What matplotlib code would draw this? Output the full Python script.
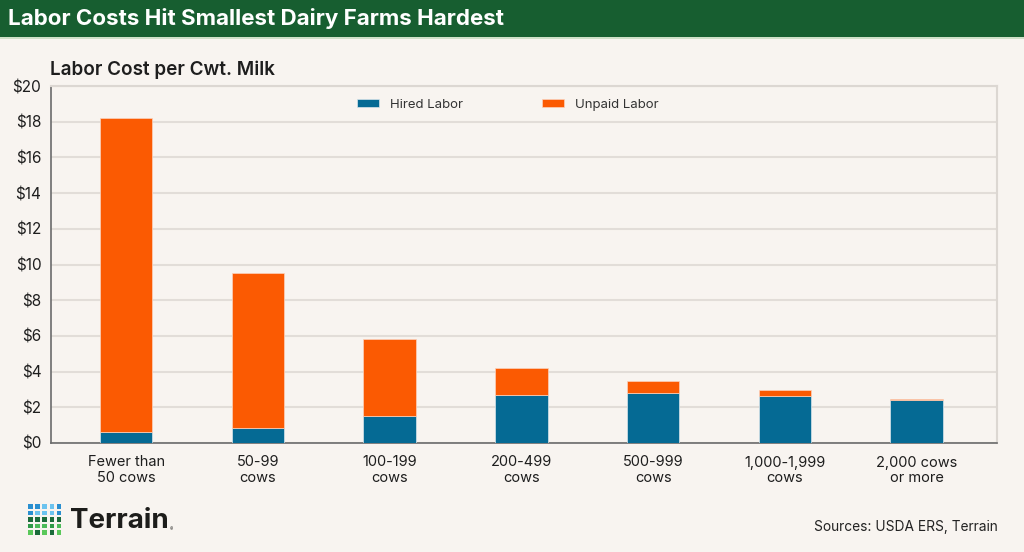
import matplotlib
matplotlib.use('Agg')
import matplotlib.pyplot as plt
from matplotlib.patches import Rectangle
import numpy as np

# data ($ per cwt of milk)
herd_sizes = ['Fewer than\n50 cows', '50-99\ncows', '100-199\ncows', '200-499\ncows',
              '500-999\ncows', '1,000-1,999\ncows', '2,000 cows\nor more']
hired_labor = [0.64, 0.83, 1.52, 2.68, 2.80, 2.65, 2.42]
total_labor = [18.20, 9.50, 5.82, 4.20, 3.46, 2.98, 2.48]
unpaid_labor = [t - h for t, h in zip(total_labor, hired_labor)]
y_ticks = [0, 2, 4, 6, 8, 10, 12, 14, 16, 18, 20]

W, H = 1024, 552
BG = '#f8f4f0'
GREEN = '#175e30'
BLUE = '#056a94'
ORANGE = '#fb5a02'

plt.rcParams['font.family'] = ['Inter', 'DejaVu Sans']


def fx(px):
    return px / W


def fy(py):
    return 1 - py / H


fig = plt.figure(figsize=(W / 100, H / 100), dpi=100, facecolor=BG)

# title band
fig.add_artist(Rectangle((0, fy(37)), 1, 37 / H, transform=fig.transFigure,
                         facecolor=GREEN, edgecolor='none'))
fig.add_artist(Rectangle((0, fy(38.5)), 1, 1.5 / H, transform=fig.transFigure,
                         facecolor='#cfe0c8', edgecolor='none'))
fig.text(fx(8), fy(18.5), 'Labor Costs Hit Smallest Dairy Farms Hardest',
         color='white', fontsize=16.1, fontweight='bold', va='center', ha='left')

ax = fig.add_axes([fx(51), fy(443), fx(997) - fx(51), (443 - 86) / H])
ax.set_facecolor(BG)

x = np.arange(len(herd_sizes))
ax.bar(x, hired_labor, width=0.4, color=BLUE, label='Hired Labor', zorder=3,
       edgecolor='#d9e6ec', linewidth=0.5)
ax.bar(x, unpaid_labor, width=0.4, bottom=hired_labor, color=ORANGE,
       label='Unpaid Labor', zorder=3, edgecolor='#fbd2bd', linewidth=0.5)

ax.set_xlim(-0.57, 6.61)
ax.set_ylim(0, 20)
ax.set_yticks(y_ticks)
ax.set_yticklabels([f'${v}' for v in y_ticks])
ax.set_xticks(x)
ax.set_xticklabels(herd_sizes, linespacing=1.1)
ax.tick_params(axis='y', length=0, pad=7, labelsize=11, labelcolor='#1e1e1e')
ax.tick_params(axis='x', length=0, pad=9, labelsize=10.5, labelcolor='#1e1e1e')

ax.grid(axis='y', color='#e2ddd8', linewidth=1.5, zorder=0)
ax.set_axisbelow(True)
for side in ['top', 'right']:
    ax.spines[side].set_color('#dcd7d2')
    ax.spines[side].set_linewidth(1.5)
for side in ['left', 'bottom']:
    ax.spines[side].set_color('#6b6b6b')
    ax.spines[side].set_linewidth(1.2)

ax.legend(loc='center', bbox_to_anchor=(0.4826, 0.947), ncol=2, frameon=False,
          fontsize=9.5, handlelength=1.7, handleheight=0.6, handletextpad=0.8,
          columnspacing=6.0, labelcolor='#333333')

fig.text(fx(50), fy(69.5), 'Labor Cost per Cwt. Milk', fontsize=13.6,
         fontweight='semibold', color='#1e1e1e', va='center', ha='left')

# logo mark
logo_colors = [
    ['#2a8fd0', '#2a8fd0', '#6cc3ef', '#6cc3ef', '#2a8fd0'],
    ['#2a8fd0', '#6cc3ef', '#6cc3ef', '#6cc3ef', '#2a8fd0'],
    ['#1b6b3a', '#1b6b3a', '#1b6b3a', '#1b6b3a', '#1b6b3a'],
    ['#2f9a48', '#4cba5a', '#4cba5a', '#2f9a48', '#4cba5a'],
    ['#5ac85a', '#1b6b3a', '#5ac85a', '#1b6b3a', '#5ac85a'],
]
for r, row in enumerate(logo_colors):
    for c, col in enumerate(row):
        px, py = 28 + c * 7.2, 504 + r * 6.6
        fig.add_artist(Rectangle((fx(px), fy(py + 4.6)), 4.6 / W, 4.6 / H,
                                 transform=fig.transFigure, facecolor=col,
                                 edgecolor='none'))
fig.text(fx(70), fy(521.5), 'Terrain', fontsize=20, fontweight='bold',
         color='#1d1d1b', va='center', ha='left')
fig.text(fx(170), fy(530), '®', fontsize=3.5, color='#1d1d1b', va='center', ha='left')

fig.text(fx(998), fy(527), 'Sources: USDA ERS, Terrain', fontsize=9.9,
         color='#222222', va='center', ha='right')

fig.savefig('out.png', dpi=100, facecolor=BG)
